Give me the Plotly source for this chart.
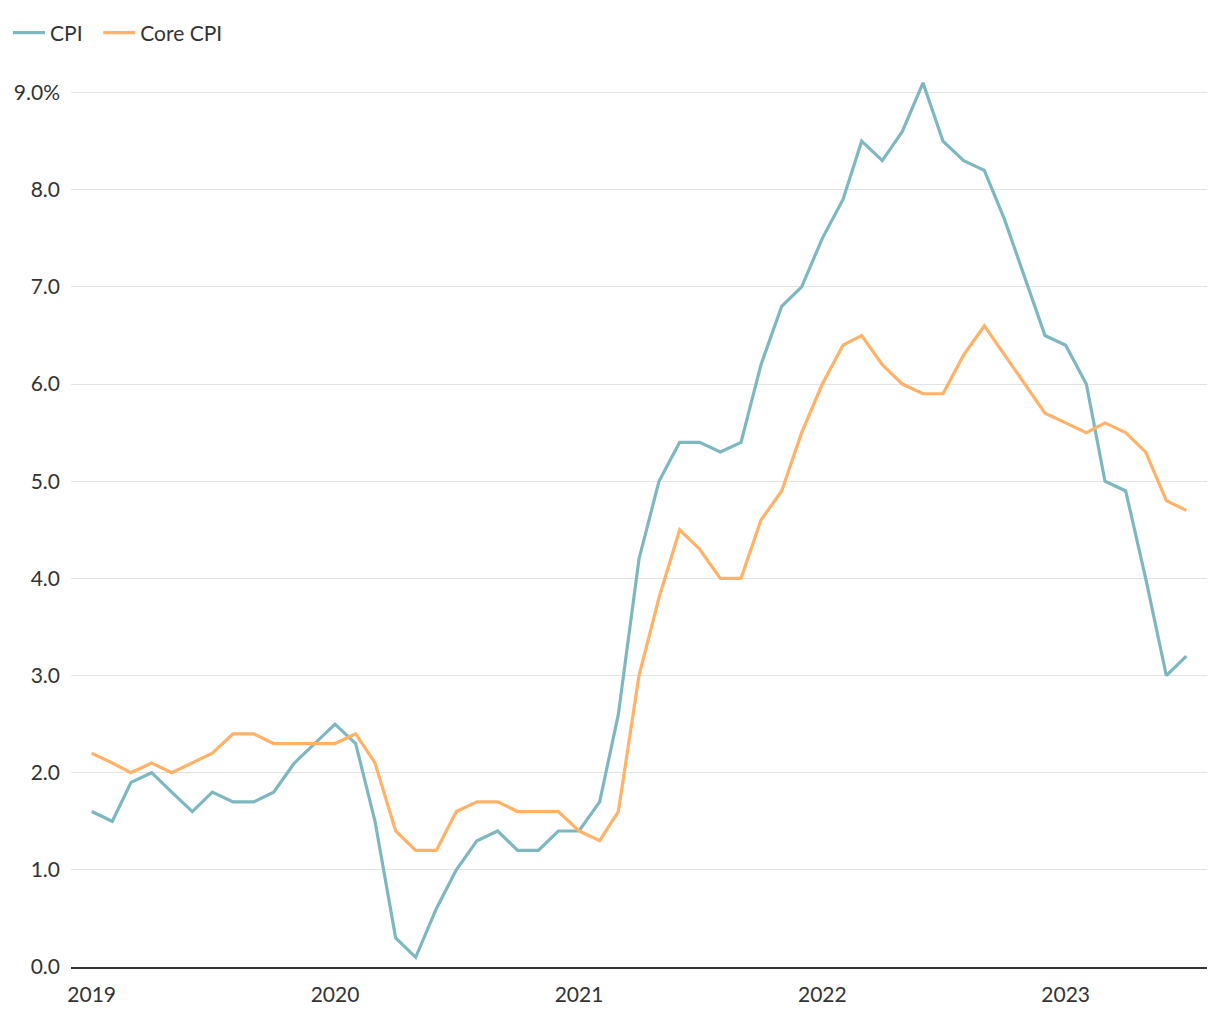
import plotly.graph_objects as go
import pandas as pd

months = pd.date_range("2019-01-01", "2023-07-01", freq="MS")

cpi = [1.6, 1.5, 1.9, 2.0, 1.8, 1.6, 1.8, 1.7, 1.7, 1.8, 2.1, 2.3,
       2.5, 2.3, 1.5, 0.3, 0.1, 0.6, 1.0, 1.3, 1.4, 1.2, 1.2, 1.4,
       1.4, 1.7, 2.6, 4.2, 5.0, 5.4, 5.4, 5.3, 5.4, 6.2, 6.8, 7.0,
       7.5, 7.9, 8.5, 8.3, 8.6, 9.1, 8.5, 8.3, 8.2, 7.7, 7.1, 6.5,
       6.4, 6.0, 5.0, 4.9, 4.0, 3.0, 3.2]

core_cpi = [2.2, 2.1, 2.0, 2.1, 2.0, 2.1, 2.2, 2.4, 2.4, 2.3, 2.3, 2.3,
            2.3, 2.4, 2.1, 1.4, 1.2, 1.2, 1.6, 1.7, 1.7, 1.6, 1.6, 1.6,
            1.4, 1.3, 1.6, 3.0, 3.8, 4.5, 4.3, 4.0, 4.0, 4.6, 4.9, 5.5,
            6.0, 6.4, 6.5, 6.2, 6.0, 5.9, 5.9, 6.3, 6.6, 6.3, 6.0, 5.7,
            5.6, 5.5, 5.6, 5.5, 5.3, 4.8, 4.7]

y_tickvals = [0, 1, 2, 3, 4, 5, 6, 7, 8, 9]
y_ticktext = ["0.0", "1.0", "2.0", "3.0", "4.0", "5.0", "6.0", "7.0", "8.0", "9.0%"]
x_tickvals = ["2019-01-01", "2020-01-01", "2021-01-01", "2022-01-01", "2023-01-01"]
x_ticktext = ["2019", "2020", "2021", "2022", "2023"]

FONT = "'Source Sans Pro', Lato, 'Noto Sans', sans-serif"

fig = go.Figure()
fig.add_trace(go.Scatter(x=months, y=cpi, mode="lines", name="CPI\u00a0\u00a0",
                         line=dict(color="#7db8bf", width=3.2)))
fig.add_trace(go.Scatter(x=months, y=core_cpi, mode="lines", name="Core CPI",
                         line=dict(color="#ffb268", width=3.2)))

fig.update_layout(
    width=1220, height=1020,
    margin=dict(l=63, r=21, t=36, b=61, autoexpand=False),
    paper_bgcolor="white", plot_bgcolor="white",
    font=dict(family=FONT, size=21, color="#333333"),
    showlegend=True,
    legend=dict(orientation="h", xref="container", yref="container",
                x=0, y=1 - 25 / 1020, xanchor="left", yanchor="middle",
                font=dict(size=21, color="#333333"),
                itemwidth=32, tracegroupgap=0,
                bgcolor="rgba(0,0,0,0)"),
    xaxis=dict(range=["2018-12-01", "2023-08-01"], tickvals=x_tickvals, ticktext=x_ticktext,
               showgrid=False, showline=True, linecolor="#333333", linewidth=2,
               ticks="", zeroline=False, ticklabelstandoff=8,
               tickfont=dict(size=21, color="#333333")),
    yaxis=dict(range=[0, 9.5], tickvals=y_tickvals, ticktext=y_ticktext,
               showgrid=True, gridcolor="#e3e3e3", gridwidth=1,
               zeroline=False, showline=False, ticks="",
               ticklabelstandoff=10,
               tickfont=dict(size=21, color="#333333")),
)

fig.write_html("out.html")
